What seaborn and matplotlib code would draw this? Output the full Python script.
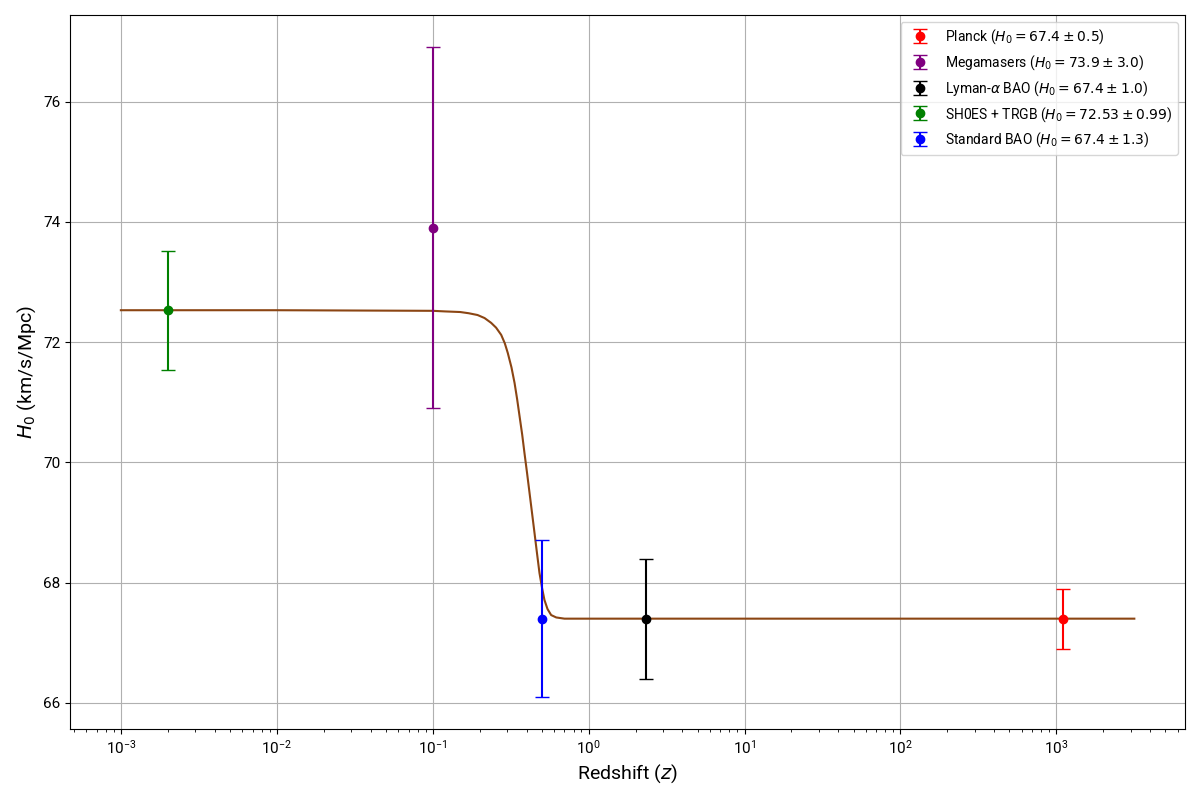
import matplotlib
matplotlib.use("Agg")
import matplotlib.pyplot as plt
import seaborn as sns
import numpy as np

# Model curve
curve_z = [0.001, 0.01, 0.1, 0.12, 0.15, 0.17, 0.194, 0.215, 0.237, 0.255, 0.275,
           0.29, 0.303, 0.32, 0.335, 0.348, 0.361, 0.375, 0.388, 0.403, 0.418,
           0.434, 0.45, 0.467, 0.484, 0.502, 0.521, 0.545, 0.575, 0.62, 0.7, 0.85, 3162]
curve_h0 = [72.53, 72.53, 72.52, 72.51, 72.50, 72.48, 72.45, 72.40, 72.32, 72.24, 72.12,
            71.98, 71.82, 71.58, 71.32, 71.05, 70.76, 70.46, 70.15, 69.82, 69.49,
            69.15, 68.82, 68.48, 68.16, 67.92, 67.71, 67.56, 67.46, 67.42, 67.40, 67.40, 67.40]

# Measurements
labels = [r"Planck ($H_0 = 67.4 \pm 0.5$)",
          r"Megamasers ($H_0 = 73.9 \pm 3.0$)",
          r"Lyman-$\alpha$ BAO ($H_0 = 67.4 \pm 1.0$)",
          r"SH0ES + TRGB ($H_0 = 72.53 \pm 0.99$)",
          r"Standard BAO ($H_0 = 67.4 \pm 1.3$)"]
z_obs = [1100, 0.1, 2.34, 0.002, 0.5]
h0_obs = [67.4, 73.9, 67.4, 72.53, 67.4]
h0_err = [0.5, 3.0, 1.0, 0.99, 1.3]
colors = ["red", "purple", "black", "green", "blue"]

plt.rcParams["font.family"] = ["Roboto", "DejaVu Sans"]

fig, ax = plt.subplots(figsize=(12, 8), dpi=100)
sns.lineplot(x=curve_z, y=curve_h0, color="saddlebrown", linewidth=1.5, ax=ax)

for lab, z, h, e, c in zip(labels, z_obs, h0_obs, h0_err, colors):
    ax.errorbar(z, h, yerr=e, fmt="o", color=c, capsize=5, label=lab)

ax.set_xscale("log")
ax.set_xlabel("Redshift ($z$)", fontsize=14)
ax.set_ylabel("$H_0$ (km/s/Mpc)", fontsize=14)
ax.tick_params(labelsize=11)
ax.grid(True, which="major")
ax.legend(loc="upper right", fontsize=10)

plt.tight_layout()
plt.savefig("out.png")
